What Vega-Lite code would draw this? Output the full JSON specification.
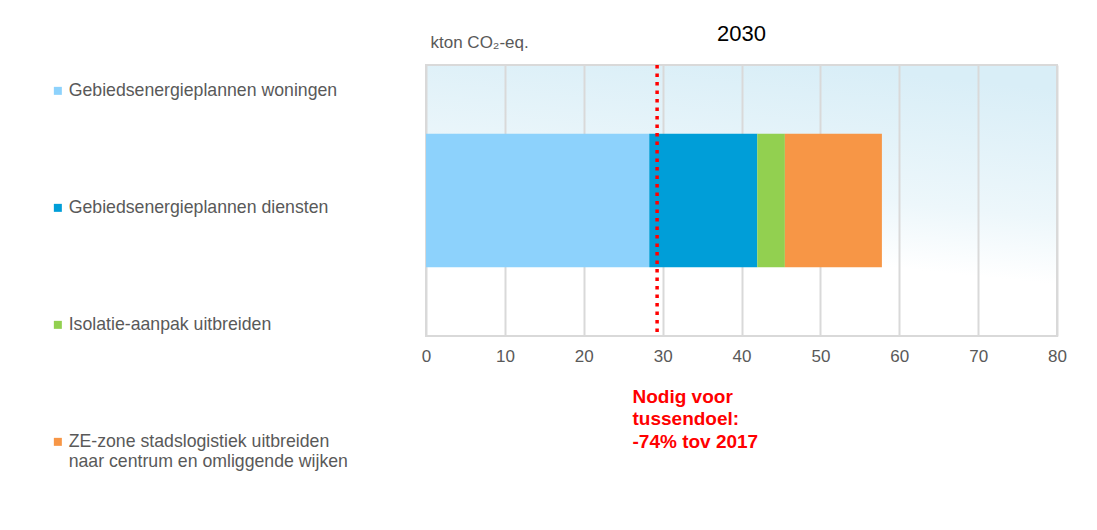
{
  "$schema": "https://vega.github.io/schema/vega-lite/v6.json",
  "width": 631,
  "height": 271,
  "autosize": "none",
  "padding": {"left": 426, "top": 65, "right": 40, "bottom": 194},
  "title": {"text": "2030", "fontSize": 22, "fontWeight": "normal", "color": "#000000", "anchor": "middle", "offset": 10, "dy": 23},
  "config": {
    "font": "Liberation Sans",
    "background": "#ffffff",
    "view": {
      "stroke": "#d9d9d9",
      "strokeWidth": 2,
      "fill": {"gradient": "linear", "x1": 0.62, "y1": 0, "x2": 0.38, "y2": 1,
        "stops": [{"offset": 0, "color": "#d9eef7"}, {"offset": 0.45, "color": "#edf7fb"}, {"offset": 0.68, "color": "#ffffff"}, {"offset": 1, "color": "#ffffff"}]}
    }
  },
  "layer": [
    {
      "data": {"values": [
        {"jaar": "2030", "maatregel": "Gebiedsenergieplannen woningen", "kton": 28.3, "volgorde": 1},
        {"jaar": "2030", "maatregel": "Gebiedsenergieplannen diensten", "kton": 13.7, "volgorde": 2},
        {"jaar": "2030", "maatregel": "Isolatie-aanpak uitbreiden", "kton": 3.5, "volgorde": 3},
        {"jaar": "2030", "maatregel": "ZE-zone stadslogistiek uitbreiden naar centrum en omliggende wijken", "kton": 12.3, "volgorde": 4}
      ]},
      "mark": {"type": "bar"},
      "encoding": {
        "x": {
          "field": "kton", "type": "quantitative", "stack": "zero",
          "scale": {"domain": [0, 80], "nice": false},
          "axis": {
            "orient": "bottom",
            "values": [0, 10, 20, 30, 40, 50, 60, 70, 80],
            "grid": true, "gridColor": "#d9d9d9", "gridWidth": 2,
            "domain": false, "ticks": false,
            "labelFontSize": 17, "labelColor": "#595959", "labelPadding": 12,
            "labelFlush": false, "labelOverlap": false,
            "title": ["Nodig voor", "tussendoel:", "-74% tov 2017"],
            "titleColor": "#ff0000", "titleFontSize": 19, "titleFontWeight": "bold",
            "titleX": 206, "titleY": 66, "titleAlign": "left", "titleAnchor": "start",
            "titleBaseline": "alphabetic", "titleLineHeight": 22.5
          }
        },
        "y": {"field": "jaar", "type": "nominal", "axis": null, "scale": {"paddingInner": 0.34, "paddingOuter": 0.34}},
        "color": {
          "field": "maatregel", "type": "nominal",
          "scale": {
            "domain": ["Gebiedsenergieplannen woningen", "Gebiedsenergieplannen diensten", "Isolatie-aanpak uitbreiden", "ZE-zone stadslogistiek uitbreiden naar centrum en omliggende wijken"],
            "range": ["#8dd2fc", "#009ed8", "#92d050", "#f79646"]
          },
          "legend": {
            "orient": "none", "legendX": -377, "legendY": 17,
            "title": null, "symbolType": "square", "symbolSize": 64,
            "labelFontSize": 17.7, "labelColor": "#595959", "labelLimit": 500,
            "labelOffset": 2, "rowPadding": 98, "padding": 0,
            "labelExpr": "datum.label == 'ZE-zone stadslogistiek uitbreiden naar centrum en omliggende wijken' ? ['ZE-zone stadslogistiek uitbreiden', 'naar centrum en omliggende wijken'] : datum.label"
          }
        },
        "order": {"field": "volgorde", "type": "quantitative"}
      }
    },
    {
      "data": {"values": [{"doel": 29.3}]},
      "mark": {"type": "rule", "color": "#ff0000", "strokeWidth": 3.5, "strokeDash": [3.5, 5]},
      "encoding": {
        "x": {
          "field": "doel", "type": "quantitative",
          "axis": {
            "orient": "top", "labels": false, "ticks": false, "domain": false, "grid": false,
            "title": "kton CO₂-eq.", "titleFontSize": 17, "titleFontWeight": "normal", "titleColor": "#595959",
            "titleX": 4, "titleY": -18, "titleAlign": "left", "titleAnchor": "start", "titleBaseline": "alphabetic"
          }
        }
      }
    }
  ]
}
